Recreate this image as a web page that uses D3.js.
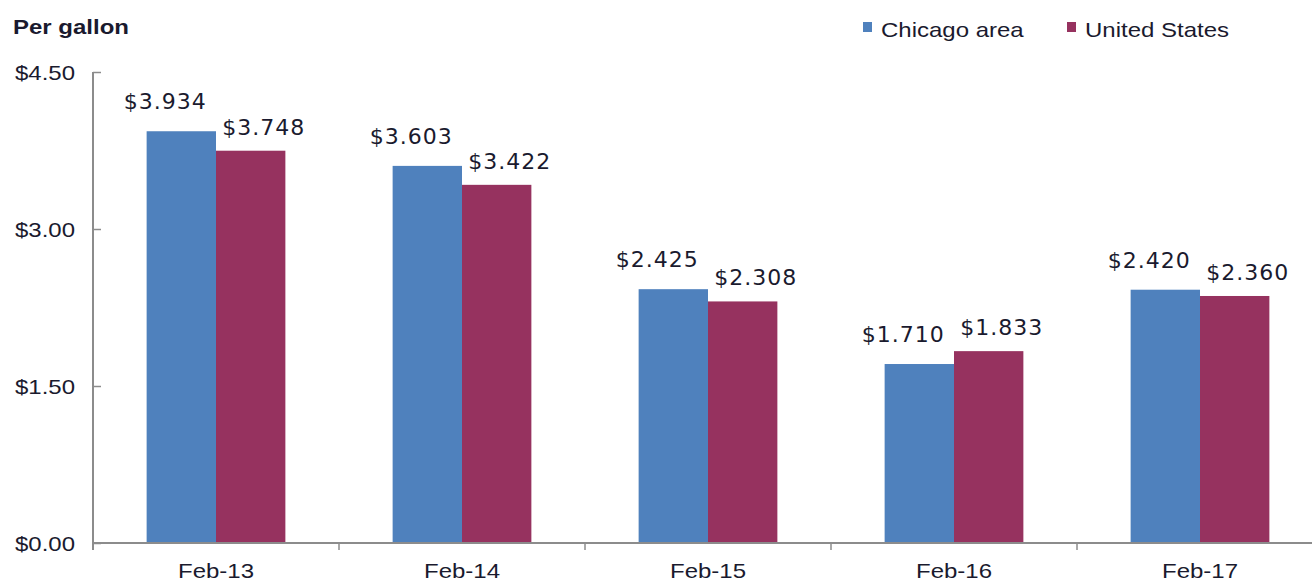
<!DOCTYPE html>
<html><head><meta charset="utf-8">
<script src="https://cdn.jsdelivr.net/npm/d3@7"></script>
<style>body{margin:0;background:#fff;} svg{display:block;}</style>
</head><body>
<svg id="c" width="1312" height="583"></svg>
<script>
const categories = ["Feb-13","Feb-14","Feb-15","Feb-16","Feb-17"];
const chicago = [3.934, 3.603, 2.425, 1.710, 2.420];
const us = [3.748, 3.422, 2.308, 1.833, 2.360];
const seriesNames = ["Chicago area","United States"];
const colors = ["#4f81bd","#96325f"];
const yTicks = [0, 1.5, 3.0, 4.5];

(function(){
const svg = d3.select("#c");
const pLeft = 93, pRight = 1323, pTop = 72, pBottom = 543;
const x = d3.scaleBand().domain(categories).range([pLeft, pRight]).paddingInner(0.436).paddingOuter(0.218);
const x1 = d3.scaleBand().domain([0,1]).range([0, x.bandwidth()]);
const y = d3.scaleLinear().domain([0, 4.5]).range([pBottom, pTop]);
const axisColor = "#8c8c8c";
const textColor = "#1a1a2e";
const SX = 1.2;
const sans = "Liberation Sans, Arial, sans-serif";

function wideText(g, tx, ty, str, opts) {
  const t = g.append("text")
    .attr("transform", `translate(${tx},${ty}) scale(${SX},1)`)
    .attr("font-family", sans)
    .attr("font-size", opts.size || 20)
    .attr("fill", textColor)
    .attr("text-anchor", opts.anchor || "start")
    .text(str);
  if (opts.bold) t.attr("font-weight", "bold");
  if (opts.ls !== undefined) t.attr("letter-spacing", opts.ls);
  return t;
}

// title fragment clipped at top (as in reference, only its lowest part shows)
svg.append("text").attr("x", 0).attr("y", -4)
  .attr("font-family", sans).attr("font-weight", "bold").attr("font-size", 21)
  .attr("fill", textColor).attr("textLength", 218).attr("lengthAdjust", "spacingAndGlyphs")
  .text("(Month of February)");
wideText(svg, 13, 34, "Per gallon", {size: 20, bold: true, ls: 0});

// bars
const series = [chicago, us];
const lblDx = [-16, 13], lblDy = [-22, -16];
series.forEach((vals, si) => {
  svg.append("g").selectAll("rect").data(vals).join("rect")
    .attr("x", (d,i) => x(categories[i]) + x1(si))
    .attr("y", d => y(d))
    .attr("width", x1.bandwidth())
    .attr("height", d => pBottom - y(d))
    .attr("fill", colors[si]);
  svg.append("g").selectAll("text").data(vals).join("text")
    .attr("x", (d,i) => x(categories[i]) + x1(si) + x1.bandwidth()/2 + lblDx[si])
    .attr("y", d => y(d) + lblDy[si])
    .attr("text-anchor","middle")
    .attr("font-family","DejaVu Sans, sans-serif")
    .attr("font-size",22)
    .attr("letter-spacing",1)
    .attr("fill",textColor)
    .text(d => "$" + d.toFixed(3));
});

// y axis
const yAxis = d3.axisRight(y).tickValues(yTicks).tickSize(8).tickFormat("");
const gy = svg.append("g").attr("transform",`translate(${pLeft},0)`).call(yAxis);
gy.select(".domain").attr("stroke",axisColor).attr("stroke-width",2).attr("d",`M0,${pTop}V${pBottom+7}`);
gy.selectAll(".tick line").attr("stroke",axisColor).attr("stroke-width",1.5);
const gyl = svg.append("g");
yTicks.forEach(v => wideText(gyl, 75, y(v) + 7.5, "$" + v.toFixed(2), {anchor: "end"}));

// x axis
svg.append("line").attr("x1",pLeft).attr("x2",pRight).attr("y1",pBottom).attr("y2",pBottom).attr("stroke",axisColor).attr("stroke-width",2);
const step = x.step();
const bounds = d3.range(categories.length + 1).map(i => pLeft + i*step);
svg.append("g").selectAll("line").data(bounds).join("line")
  .attr("x1",d=>d).attr("x2",d=>d).attr("y1",pBottom).attr("y2",pBottom+7)
  .attr("stroke",axisColor).attr("stroke-width",1.5);
const gxl = svg.append("g");
categories.forEach(c => wideText(gxl, x(c) + x.bandwidth()/2, 578, c, {anchor: "middle"}));

// legend
const legX = [863, 1067];
const gl = svg.append("g");
seriesNames.forEach((n, i) => {
  gl.append("rect").attr("x", legX[i]).attr("y", 22).attr("width", 9).attr("height", 10).attr("fill", colors[i]);
  wideText(gl, legX[i] + 18, 37, n, {ls: 0});
});
})();
</script>
</body></html>
